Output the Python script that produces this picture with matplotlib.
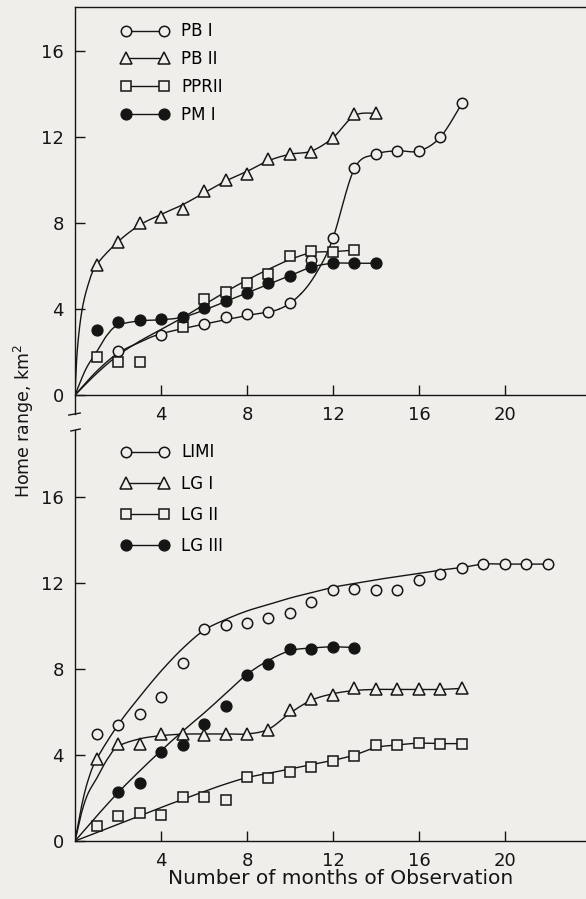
import numpy as np
import matplotlib
matplotlib.use('Agg')
import matplotlib.pyplot as plt
from matplotlib.lines import Line2D

# ---- top panel data (months, home range km2) ----
pb1_x = [2, 4, 6, 7, 8, 9, 10, 11, 12, 13, 14, 15, 16, 17, 18]
pb1_y = [2.06, 2.79, 3.3, 3.64, 3.77, 3.85, 4.28, 6.3, 7.32, 10.54, 11.2, 11.36, 11.35, 12.0, 13.57]

pb2_x = [1, 2, 3, 4, 5, 6, 7, 8, 9, 10, 11, 12, 13, 14]
pb2_y = [6.05, 7.13, 7.98, 8.29, 8.64, 9.5, 10.0, 10.3, 10.96, 11.2, 11.3, 11.97, 13.05, 13.1]

ppr2_x = [1, 2, 3, 5, 6, 7, 8, 9, 10, 11, 12, 13]
ppr2_y = [1.75, 1.55, 1.55, 3.15, 4.47, 4.8, 5.22, 5.63, 6.47, 6.71, 6.67, 6.74]

pm1_x = [1, 2, 3, 4, 5, 6, 7, 8, 9, 10, 11, 12, 13, 14]
pm1_y = [3.02, 3.41, 3.49, 3.56, 3.64, 4.03, 4.39, 4.73, 5.2, 5.53, 5.97, 6.13, 6.13, 6.13]

# fitted curves as drawn
pb1_fit_x = [0, 1, 2, 3, 4, 6, 8, 9.5, 10.5, 11.3, 12, 13, 14, 15, 16, 17, 18]
pb1_fit_y = [0, 1.1, 1.95, 2.45, 2.85, 3.3, 3.7, 4.0, 4.7, 5.8, 7.3, 10.54, 11.2, 11.36, 11.35, 12.0, 13.57]
pb2_fit_x = [0, 0.1, 0.3, 0.6, 1, 2, 3, 4, 5, 6, 7, 8, 9, 10, 11, 12, 13, 14]
pb2_fit_y = [0, 2.0, 3.8, 5.1, 6.05, 7.13, 7.9, 8.4, 8.85, 9.4, 9.95, 10.4, 10.9, 11.2, 11.35, 11.97, 13.0, 13.1]
ppr2_fit_x = [0, 1, 2, 3, 4, 5, 6, 7, 8, 9, 10, 11, 12, 13]
ppr2_fit_y = [0, 1.0, 1.85, 2.5, 3.05, 3.6, 4.2, 4.8, 5.35, 5.85, 6.3, 6.62, 6.67, 6.74]
pm1_fit_x = [0, 0.5, 1, 1.5, 2, 3, 4, 5, 6, 7, 8, 9, 10, 11, 12, 13, 14]
pm1_fit_y = [0, 1.2, 2.0, 2.8, 3.25, 3.45, 3.5, 3.62, 3.95, 4.35, 4.75, 5.15, 5.55, 5.95, 6.13, 6.13, 6.13]

# ---- bottom panel data ----
limi_x = list(range(1, 23))
limi_y = [4.98, 5.4, 5.9, 6.68, 8.29, 9.84, 10.05, 10.12, 10.39, 10.59, 11.13, 11.67,
          11.72, 11.67, 11.67, 12.16, 12.44, 12.72, 12.88, 12.88, 12.88, 12.88]

lg1_x = list(range(1, 19))
lg1_y = [3.8, 4.53, 4.53, 4.98, 5.0, 4.93, 4.98, 4.96, 5.16, 6.09, 6.59, 6.79,
         7.1, 7.05, 7.05, 7.05, 7.05, 7.1]

lg2_x = list(range(1, 19))
lg2_y = [0.7, 1.18, 1.32, 1.21, 2.03, 2.06, 1.91, 2.99, 2.94, 3.19, 3.46, 3.73,
         3.97, 4.47, 4.47, 4.57, 4.53, 4.53]

lg3_x = list(range(2, 14))
lg3_y = [2.29, 2.72, 4.15, 4.47, 5.43, 6.29, 7.72, 8.23, 8.95, 8.95, 9.03, 9.0]

limi_fit_x = [0, 0.3, 0.6, 1, 2, 3, 4, 5, 6, 7, 8, 9, 10, 11, 12, 13, 14, 15, 16, 17, 18, 19, 20, 21, 22]
limi_fit_y = [0, 1.6, 2.8, 3.8, 5.4, 6.7, 7.9, 8.95, 9.8, 10.3, 10.7, 11.0, 11.3, 11.55, 11.8,
              11.98, 12.15, 12.3, 12.45, 12.6, 12.72, 12.88, 12.88, 12.88, 12.88]
lg1_fit_x = [0, 0.3, 0.6, 1, 1.5, 2, 3, 4, 5, 6, 7, 8, 9, 10, 11, 12, 13, 14, 15, 16, 17, 18]
lg1_fit_y = [0, 1.3, 2.2, 2.9, 3.8, 4.4, 4.75, 4.9, 4.97, 4.98, 4.98, 4.98, 5.2, 5.95, 6.55,
             6.85, 7.0, 7.05, 7.05, 7.05, 7.05, 7.1]
lg2_fit_x = [0, 2, 4, 6, 7, 8, 9, 10, 11, 12, 13, 14, 15, 16, 17, 18]
lg2_fit_y = [0, 0.78, 1.56, 2.3, 2.65, 2.95, 3.15, 3.35, 3.55, 3.75, 4.0, 4.35, 4.47, 4.55, 4.53, 4.53]
lg3_fit_x = [0, 1, 2, 3, 4, 5, 6, 7, 8, 9, 10, 11, 12, 13]
lg3_fit_y = [0, 1.15, 2.25, 3.25, 4.2, 5.1, 5.95, 6.85, 7.75, 8.4, 8.85, 8.98, 9.03, 9.0]

x_ticks = [4, 8, 12, 16, 20, 24]
x_ticklabels = ['4', '8', '12', '16', '20', '']
y_ticks = [0, 4, 8, 12, 16]


def smooth(xk, yk, n=24):
    # catmull-rom through the knots
    p = np.column_stack([xk, yk]).astype(float)
    p = np.vstack([p[0], p, p[-1]])
    t = np.linspace(0, 1, n)[:, None]
    segs = []
    for i in range(1, len(p) - 2):
        p0, p1, p2, p3 = p[i - 1], p[i], p[i + 1], p[i + 2]
        segs.append(0.5 * (2 * p1 + (-p0 + p2) * t
                           + (2 * p0 - 5 * p1 + 4 * p2 - p3) * t ** 2
                           + (-p0 + 3 * p1 - 3 * p2 + p3) * t ** 3))
    s = np.vstack(segs)
    return s[:, 0], s[:, 1]


BG = '#efeeea'
INK = '#151515'
LW = 1.0

styles = {
    'circle': dict(marker='o', markersize=7.5, mfc=BG, mec=INK, mew=1.1),
    'tri': dict(marker='^', markersize=8, mfc=BG, mec=INK, mew=1.1),
    'square': dict(marker='s', markersize=6.8, mfc=BG, mec=INK, mew=1.1),
    'dot': dict(marker='o', markersize=7.8, mfc=INK, mec=INK, mew=1.0),
}

plt.rcParams['font.family'] = ['DejaVu Sans']
fig = plt.figure(figsize=(5.86, 8.99), dpi=100, facecolor=BG)

XMAX = 24
ax1 = fig.add_axes([0.128, 0.539, 0.8805, 0.4533], facecolor=BG)
ax2 = fig.add_axes([0.128, 0.0645, 0.8805, 0.4568], facecolor=BG)

top_series = [
    ('PB I', pb1_x, pb1_y, pb1_fit_x, pb1_fit_y, 'circle'),
    ('PB II', pb2_x, pb2_y, pb2_fit_x, pb2_fit_y, 'tri'),
    ('PPRII', ppr2_x, ppr2_y, ppr2_fit_x, ppr2_fit_y, 'square'),
    ('PM I', pm1_x, pm1_y, pm1_fit_x, pm1_fit_y, 'dot'),
]
bottom_series = [
    ('LIMI', limi_x, limi_y, limi_fit_x, limi_fit_y, 'circle'),
    ('LG I', lg1_x, lg1_y, lg1_fit_x, lg1_fit_y, 'tri'),
    ('LG II', lg2_x, lg2_y, lg2_fit_x, lg2_fit_y, 'square'),
    ('LG III', lg3_x, lg3_y, lg3_fit_x, lg3_fit_y, 'dot'),
]


def draw(ax, series, ylim, lab_space, anchor):
    handles = []
    for name, x, y, fx, fy, st in series:
        cx, cy = smooth(fx, fy)
        ax.plot(cx, cy, color=INK, lw=LW, zorder=2)
        ax.plot(x, y, ls='none', zorder=3, **styles[st])
        handles.append(Line2D([], [], color=INK, lw=LW, label=name, **styles[st]))
    ax.set_xlim(0, XMAX)
    ax.set_ylim(*ylim)
    ax.set_xticks(x_ticks)
    ax.set_xticklabels(x_ticklabels)
    ax.set_yticks(y_ticks)
    ax.tick_params(direction='in', length=7, width=1, pad=8, labelsize=13, colors=INK)
    ax.spines['right'].set_visible(False)
    for s in ax.spines.values():
        s.set_linewidth(1.0)
        s.set_color(INK)
    ax.legend(handles=handles, loc='upper left', bbox_to_anchor=anchor, numpoints=2,
              frameon=False, fontsize=12, handlelength=2.9, handletextpad=0.7,
              labelspacing=lab_space, borderpad=0, borderaxespad=0)


draw(ax1, top_series, (-0.9, 18.05), 0.59, (0.089, 0.962))
draw(ax2, bottom_series, (0, 19.1), 0.79, (0.089, 0.968))

ax1.spines['bottom'].set_position(('data', 0))
ax2.spines['top'].set_visible(False)

# axis break marks
ax1.plot([-0.012, 0.010], [-0.0015, 0.0034], transform=ax1.transAxes, color=INK,
         lw=1.0, clip_on=False)
ax2.plot([-0.008, 0.010], [0.9984, 1.0033], transform=ax2.transAxes, color=INK,
         lw=1.0, clip_on=False)

fig.text(24 / 586, 1 - 421 / 899, 'Home range, km$^{2}$', rotation=90,
         ha='center', va='center', fontsize=12.5, color=INK)
fig.text(341 / 586, 1 - 879 / 899, 'Number of months of Observation',
         ha='center', va='center', fontsize=14.5, color=INK)

fig.savefig('out.png', dpi=100, facecolor=BG)
